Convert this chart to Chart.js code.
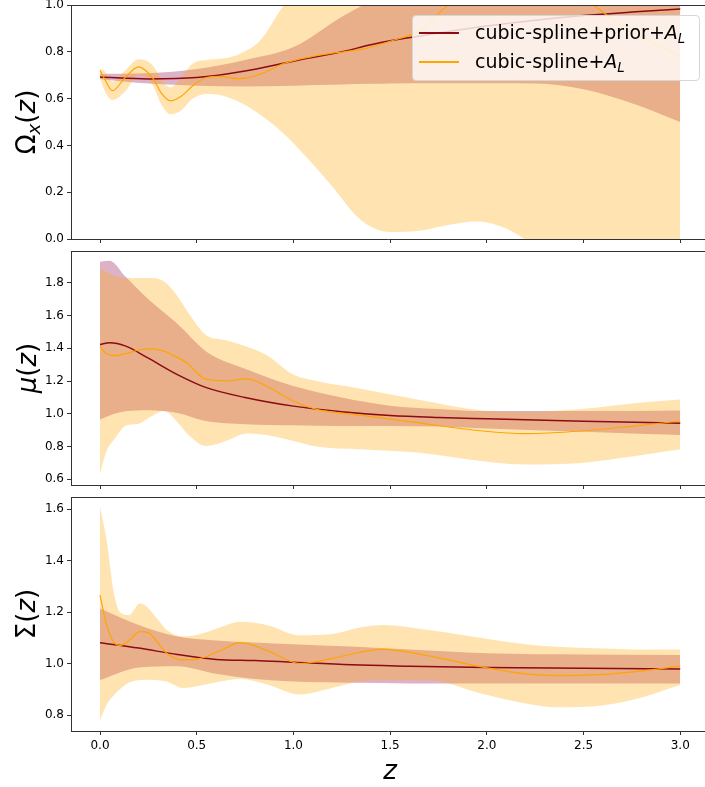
<!DOCTYPE html>
<html>
<head>
<meta charset="utf-8">
<script src="https://cdn.jsdelivr.net/npm/chart.js@4/dist/chart.umd.min.js"></script>
<style>
  body { margin: 0; width: 705px; height: 787px; position: relative; overflow: hidden; background: #fff;
         font-family: "DejaVu Sans", sans-serif; color: #000; }
  canvas { position: absolute; left: 0; }
  .ylab { position: absolute; font-size: 26px; white-space: nowrap; transform: translate(-50%, -50%) rotate(-90deg); }
  .sub { font-size: 70%; position: relative; top: 0.28em; }
  .legend { position: absolute; left: 412px; top: 15px; width: 286px; height: 64px; background: rgba(255,255,255,0.8);
            border: 1px solid #d6d6d6; border-radius: 4px; font-size: 19px; }
  .legend .row { position: absolute; left: 0; height: 24px; }
  .legend .swatch { position: absolute; left: 6px; width: 40px; top: 12px; height: 2px; }
  .legend .txt { position: absolute; left: 62px; top: 0; white-space: nowrap; line-height: 24px; }
</style>
</head>
<body>
<canvas id="omega" width="705" height="245" style="top:0px"></canvas>
<canvas id="mu" width="705" height="245" style="top:246px"></canvas>
<canvas id="sigma" width="705" height="295" style="top:492px"></canvas>

<div class="ylab" style="left:26px; top:122px">Ω<span class="sub"><i>x</i></span>(<i>z</i>)</div>
<div class="ylab" style="left:27px; top:368px"><i>μ</i>(<i>z</i>)</div>
<div class="ylab" style="left:26px; top:614px">Σ(<i>z</i>)</div>
<div style="position:absolute; left:390px; top:770px; transform:translate(-50%,-50%); font-size:26px"><i>z</i></div>

<div class="legend">
  <div class="row" style="top:4px"><div class="swatch" id="sw1"></div><div class="txt">cubic-spline+prior+<i>A</i><span class="sub"><i>L</i></span></div></div>
  <div class="row" style="top:33px"><div class="swatch" id="sw2"></div><div class="txt">cubic-spline+<i>A</i><span class="sub"><i>L</i></span></div></div>
</div>

<script>
// x axis
const xTicks = [0, 0.5, 1.0, 1.5, 2.0, 2.5, 3.0];

// Omega_x(z)
const omPriorZ = [0, 0.25, 0.5, 0.75, 1.0, 1.25, 1.4, 1.5, 1.75, 2.0, 2.25, 2.5, 2.75, 3.0];
const omPriorMid = [0.692, 0.684, 0.69, 0.718, 0.76, 0.80, 0.83, 0.847, 0.88, 0.91, 0.935, 0.955, 0.97, 0.983];
const omPriorLo = [0.683, 0.664, 0.655, 0.652, 0.655, 0.66, 0.663, 0.665, 0.666, 0.666, 0.664, 0.64, 0.58, 0.50];
const omPriorHi = [0.705, 0.708, 0.726, 0.765, 0.82, 0.95, 1.02, 1.08, 1.15, 1.2, 1.2, 1.2, 1.2, 1.2];
const omZ = [0, 0.02, 0.065, 0.13, 0.2, 0.27, 0.32, 0.365, 0.42, 0.48, 0.55, 0.62, 0.72, 0.83, 0.95,
             1.1, 1.2, 1.35, 1.5, 1.65, 1.8, 1.95, 2.1, 2.25, 2.4, 2.55, 2.7, 2.85, 3.0];
const omMid = [0.72, 0.69, 0.634, 0.69, 0.736, 0.69, 0.62, 0.59, 0.61, 0.655, 0.69, 0.695, 0.685, 0.705, 0.75,
               0.78, 0.794, 0.81, 0.845, 0.89, 1.0, 1.08, 1.13, 1.14, 1.08, 1.0, 0.91, 0.84, 0.78];
const omLo = [0.69, 0.64, 0.594, 0.63, 0.70, 0.66, 0.57, 0.533, 0.55, 0.60, 0.62, 0.615, 0.585, 0.53, 0.45,
              0.32, 0.224, 0.08, 0.03, 0.035, 0.06, 0.075, 0.045, -0.03, -0.1, -0.15, -0.2, -0.2, -0.2];
const omHi = [0.725, 0.72, 0.672, 0.72, 0.768, 0.745, 0.68, 0.648, 0.69, 0.75, 0.765, 0.77, 0.79, 0.85, 1.0,
              1.15, 1.25, 1.35, 1.4, 1.45, 1.5, 1.5, 1.5, 1.5, 1.5, 1.5, 1.5, 1.5, 1.5];

// mu(z)
const muPriorZ = [0, 0.05, 0.13, 0.25, 0.4, 0.55, 0.75, 1.0, 1.25, 1.5, 1.75, 2.0, 2.5, 3.0];
const muPriorMid = [1.424, 1.434, 1.415, 1.34, 1.24, 1.16, 1.10, 1.047, 1.013, 0.99, 0.978, 0.97, 0.955, 0.942];
const muPriorLo = [0.966, 0.99, 1.015, 1.022, 1.005, 0.955, 0.937, 0.93, 0.926, 0.925, 0.922, 0.91, 0.89, 0.87];
const muPriorHi = [1.93, 1.935, 1.84, 1.70, 1.55, 1.38, 1.275, 1.17, 1.10, 1.05, 1.03, 1.017, 1.017, 1.021];
const muZ = [0, 0.03, 0.078, 0.137, 0.2, 0.259, 0.33, 0.4, 0.45, 0.55, 0.65, 0.76, 0.86, 1.0, 1.12, 1.34,
             1.64, 1.98, 2.2, 2.49, 2.76, 3.0];
const muMid = [1.413, 1.37, 1.356, 1.37, 1.39, 1.397, 1.383, 1.345, 1.31, 1.21, 1.202, 1.214, 1.17, 1.078, 1.027,
               0.992, 0.946, 0.895, 0.879, 0.895, 0.925, 0.956];
const muLo = [0.63, 0.76, 0.85, 0.93, 0.94, 0.98, 1.017, 0.95, 0.88, 0.803, 0.834, 0.88, 0.87, 0.834, 0.80,
              0.783, 0.763, 0.71, 0.69, 0.70, 0.74, 0.783];
const muHi = [1.89, 1.87, 1.84, 1.83, 1.83, 1.83, 1.81, 1.72, 1.63, 1.48, 1.45, 1.41, 1.36, 1.24, 1.20,
              1.155, 1.088, 1.02, 1.012, 1.03, 1.065, 1.088];

// Sigma(z)
const sgPriorZ = [0, 0.2, 0.4, 0.6, 0.8, 1.0, 1.3, 1.6, 2.0, 2.5, 3.0];
const sgPriorMid = [1.081, 1.06, 1.035, 1.016, 1.012, 1.005, 0.995, 0.99, 0.985, 0.982, 0.979];
const sgPriorLo = [0.936, 0.985, 0.99, 0.96, 0.94, 0.93, 0.925, 0.923, 0.923, 0.923, 0.923];
const sgPriorHi = [1.214, 1.15, 1.105, 1.09, 1.082, 1.075, 1.066, 1.055, 1.04, 1.035, 1.033];
const sgZ = [0, 0.034, 0.069, 0.103, 0.15, 0.207, 0.25, 0.3, 0.345, 0.43, 0.52, 0.62, 0.724, 0.86, 1.034,
             1.2, 1.344, 1.464, 1.7, 1.965, 2.2, 2.36, 2.6, 2.76, 3.0];
const sgMid = [1.266, 1.15, 1.085, 1.07, 1.09, 1.124, 1.12, 1.08, 1.04, 1.014, 1.02, 1.05, 1.081, 1.052, 1.0,
               1.02, 1.044, 1.055, 1.03, 0.988, 0.96, 0.953, 0.958, 0.968, 0.99];
const sgLo = [0.78, 0.84, 0.875, 0.9, 0.925, 0.936, 0.937, 0.935, 0.93, 0.905, 0.915, 0.93, 0.94, 0.92, 0.88,
              0.905, 0.93, 0.935, 0.935, 0.885, 0.845, 0.83, 0.837, 0.86, 0.917];
const sgHi = [1.609, 1.48, 1.286, 1.20, 1.188, 1.234, 1.215, 1.17, 1.13, 1.105, 1.115, 1.14, 1.162, 1.15, 1.11,
              1.115, 1.14, 1.15, 1.13, 1.10, 1.075, 1.065, 1.058, 1.055, 1.055];

const priorColor = "#8b0a14";
const orangeColor = "#ffa500";
const purpleBand = "rgba(142, 0, 65, 0.3)";
const yellowBand = "rgba(255, 165, 0, 0.3)";
const frameColor = "#333";

document.getElementById("sw1").style.background = priorColor;
document.getElementById("sw2").style.background = orangeColor;

Chart.defaults.font.family = "'DejaVu Sans', sans-serif";
Chart.defaults.font.size = 12;
Chart.defaults.color = "#000";

const pts = (zs, vs) => zs.map((z, i) => ({ x: z, y: vs[i] }));

const topSpine = {
  id: "topSpine",
  afterDraw(chart) {
    const { ctx, chartArea } = chart;
    ctx.save();
    ctx.strokeStyle = frameColor;
    ctx.lineWidth = 1;
    ctx.beginPath();
    ctx.moveTo(chartArea.left, chartArea.top + 0.5);
    ctx.lineTo(chartArea.right, chartArea.top + 0.5);
    ctx.stroke();
    ctx.restore();
  },
};

function makePanel(id, s) {
  const edge = { borderWidth: 0, borderColor: "transparent" };
  new Chart(document.getElementById(id), {
    type: "line",
    data: {
      datasets: [
        { data: pts(s.z, s.mid), borderColor: orangeColor, borderWidth: 1.2 },
        { data: pts(s.pz, s.pmid), borderColor: priorColor, borderWidth: 1.5 },
        { data: pts(s.z, s.lo), ...edge },
        { data: pts(s.z, s.hi), ...edge, fill: 2, backgroundColor: yellowBand },
        { data: pts(s.pz, s.plo), ...edge },
        { data: pts(s.pz, s.phi), ...edge, fill: 4, backgroundColor: purpleBand },
      ],
    },
    options: {
      responsive: false,
      animation: false,
      devicePixelRatio: 1,
      layout: { padding: { top: 5, left: 0, right: 0, bottom: 0 } },
      elements: {
        point: { radius: 0 },
        line: { cubicInterpolationMode: "monotone" },
      },
      plugins: { legend: { display: false }, tooltip: { enabled: false } },
      scales: {
        x: {
          type: "linear",
          min: -0.15,
          max: 3.128,
          afterBuildTicks: (sc) => { sc.ticks = xTicks.map((v) => ({ value: v })); },
          afterFit: (sc) => { sc.height = s.xHeight; sc.paddingLeft = 0; sc.paddingRight = 0; },
          ticks: { display: s.showX, padding: 4, font: { size: 12 }, callback: (v) => v.toFixed(1), maxRotation: 0 },
          grid: { drawOnChartArea: false, tickLength: 4, color: frameColor },
          border: { color: frameColor, width: 1 },
        },
        y: {
          min: s.yMin,
          max: s.yMax,
          afterBuildTicks: (sc) => { sc.ticks = s.yTicks.map((v) => ({ value: v })); },
          afterFit: (sc) => { sc.width = 71; sc.paddingTop = 0; sc.paddingBottom = 0; },
          ticks: { padding: 3, font: { size: 12 }, callback: (v) => v.toFixed(1) },
          grid: { drawOnChartArea: false, tickLength: 4, color: frameColor },
          border: { color: frameColor, width: 1 },
        },
      },
    },
    plugins: [topSpine],
  });
}

makePanel("omega", {
  z: omZ, mid: omMid, lo: omLo, hi: omHi,
  pz: omPriorZ, pmid: omPriorMid, plo: omPriorLo, phi: omPriorHi,
  yMin: 0, yMax: 1.0, yTicks: [0, 0.2, 0.4, 0.6, 0.8, 1.0], showX: false, xHeight: 6,
});
makePanel("mu", {
  z: muZ, mid: muMid, lo: muLo, hi: muHi,
  pz: muPriorZ, pmid: muPriorMid, plo: muPriorLo, phi: muPriorHi,
  yMin: 0.565, yMax: 1.995, yTicks: [0.6, 0.8, 1.0, 1.2, 1.4, 1.6, 1.8], showX: false, xHeight: 6,
});
makePanel("sigma", {
  z: sgZ, mid: sgMid, lo: sgLo, hi: sgHi,
  pz: sgPriorZ, pmid: sgPriorMid, plo: sgPriorLo, phi: sgPriorHi,
  yMin: 0.738, yMax: 1.647, yTicks: [0.8, 1.0, 1.2, 1.4, 1.6], showX: true, xHeight: 56,
});
</script>
</body>
</html>
